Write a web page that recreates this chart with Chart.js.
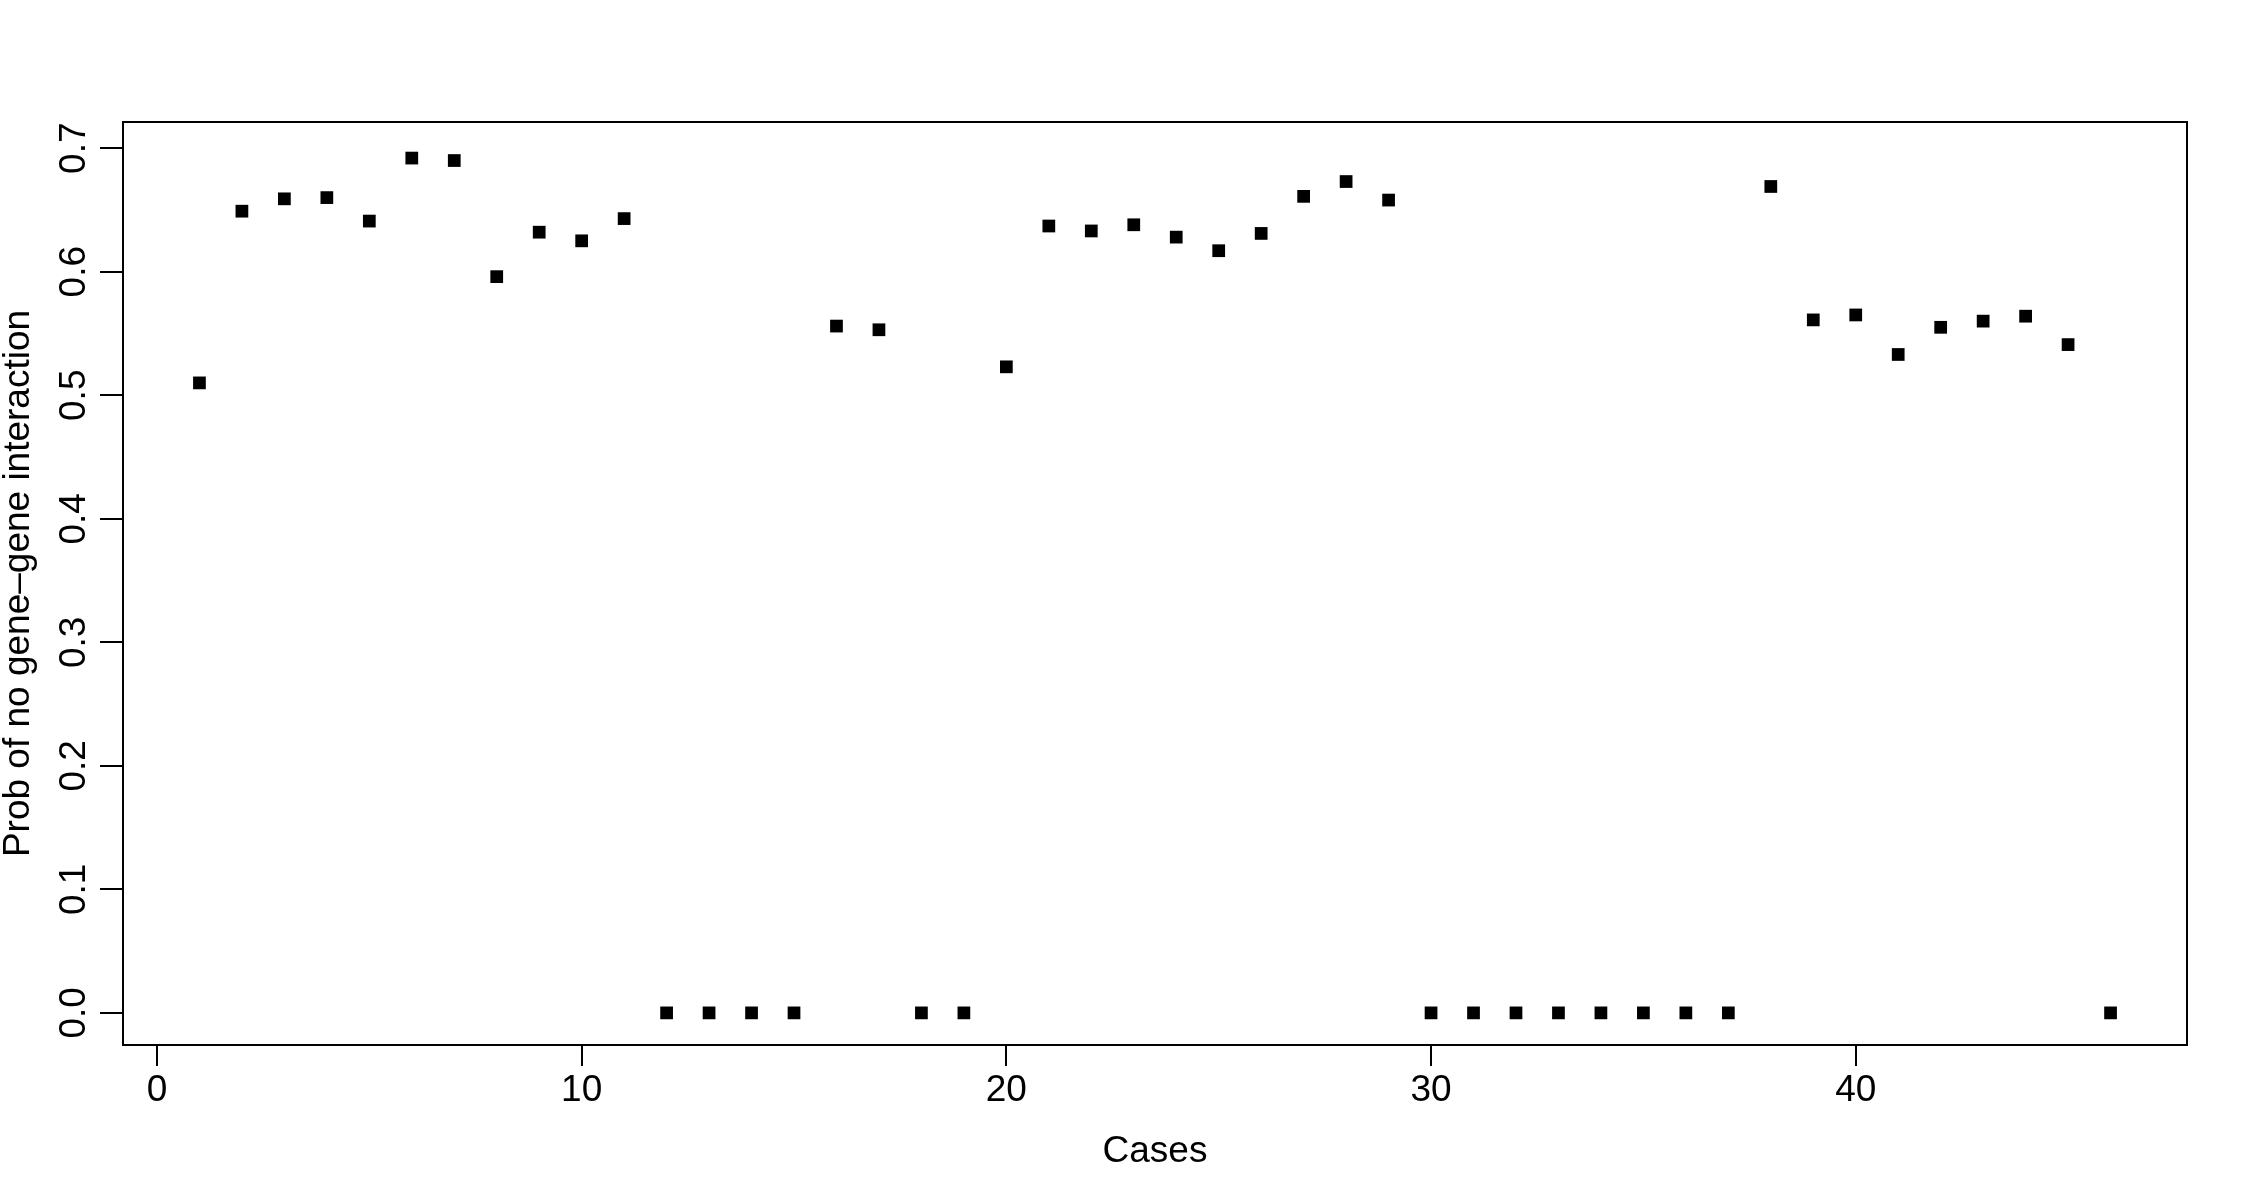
<!DOCTYPE html>
<html>
<head>
<meta charset="utf-8">
<script src="https://cdn.jsdelivr.net/npm/chart.js@4/dist/chart.umd.min.js"></script>
<style>
  html, body { margin: 0; padding: 0; background: #fff; }
  canvas { display: block; }
</style>
</head>
<body>
<canvas id="chart" width="2250" height="1200"></canvas>
<script>
// data
const cases = [1, 2, 3, 4, 5, 6, 7, 8, 9, 10, 11, 12, 13, 14, 15, 16, 17, 18, 19, 20, 21, 22, 23,
  24, 25, 26, 27, 28, 29, 30, 31, 32, 33, 34, 35, 36, 37, 38, 39, 40, 41, 42, 43, 44, 45, 46];
const probNoInteraction = [0.510, 0.649, 0.659, 0.660, 0.641, 0.692, 0.690, 0.596, 0.632, 0.625,
  0.643, 0, 0, 0, 0, 0.556, 0.553, 0, 0, 0.523, 0.637, 0.633, 0.638, 0.628, 0.617, 0.631, 0.661,
  0.673, 0.658, 0, 0, 0, 0, 0, 0, 0, 0, 0.669, 0.561, 0.565, 0.533, 0.555, 0.560, 0.564, 0.541, 0];
const xTicks = [0, 10, 20, 30, 40];
const yTicks = [0, 0.1, 0.2, 0.3, 0.4, 0.5, 0.6, 0.7];

const FONT = '"Liberation Sans", Arial, Helvetica, sans-serif';

// R-style box around the plot region + rotated y tick labels
const rBox = {
  id: 'rBox',
  afterDraw(chart) {
    const { ctx, chartArea: a } = chart;
    const y = chart.scales.y;
    ctx.save();
    ctx.strokeStyle = '#000';
    ctx.lineWidth = 2;
    ctx.strokeRect(a.left, a.top, a.right - a.left, a.bottom - a.top);

    ctx.fillStyle = '#000';
    ctx.font = '37px ' + FONT;
    ctx.textAlign = 'center';
    ctx.textBaseline = 'middle';
    yTicks.forEach(v => {
      ctx.save();
      ctx.translate(75, y.getPixelForValue(v));
      ctx.rotate(-Math.PI / 2);
      ctx.fillText(v.toFixed(1), 0, 0);
      ctx.restore();
    });
    ctx.restore();
  }
};

new Chart(document.getElementById('chart'), {
  type: 'scatter',
  data: {
    datasets: [{
      data: cases.map((c, i) => ({ x: c, y: probNoInteraction[i] })),
      pointStyle: 'rect',
      pointRadius: 9,
      pointHoverRadius: 9,
      backgroundColor: '#000',
      borderWidth: 0
    }]
  },
  options: {
    responsive: false,
    animation: false,
    events: [],
    layout: { padding: { top: 122, right: 63, left: 0, bottom: 0 } },
    plugins: { legend: { display: false }, tooltip: { enabled: false } },
    scales: {
      x: {
        type: 'linear',
        min: -0.8,
        max: 47.8,
        afterBuildTicks: s => { s.ticks = xTicks.map(v => ({ value: v })); },
        afterFit: s => { s.height = 155; },
        border: { display: false },
        grid: { drawOnChartArea: false, drawTicks: true, tickLength: 21, color: '#000', lineWidth: 2 },
        ticks: {
          color: '#000',
          font: { family: FONT, size: 37, lineHeight: 1 },
          padding: 6,
          maxRotation: 0,
          callback: v => String(v)
        },
        title: {
          display: true,
          text: 'Cases',
          color: '#000',
          font: { family: FONT, size: 37, lineHeight: 1 },
          padding: { top: 0, bottom: 30 }
        }
      },
      y: {
        type: 'linear',
        min: -0.026,
        max: 0.7212,
        afterBuildTicks: s => { s.ticks = yTicks.map(v => ({ value: v })); },
        afterFit: s => { s.width = 123; },
        border: { display: false },
        grid: { drawOnChartArea: false, drawTicks: true, tickLength: 23, color: '#000', lineWidth: 2 },
        ticks: { display: false },
        title: {
          display: true,
          text: 'Prob of no gene–gene interaction',
          color: '#000',
          font: { family: FONT, size: 37, lineHeight: 1 },
          padding: 0
        }
      }
    }
  },
  plugins: [rBox]
});
</script>
</body>
</html>
